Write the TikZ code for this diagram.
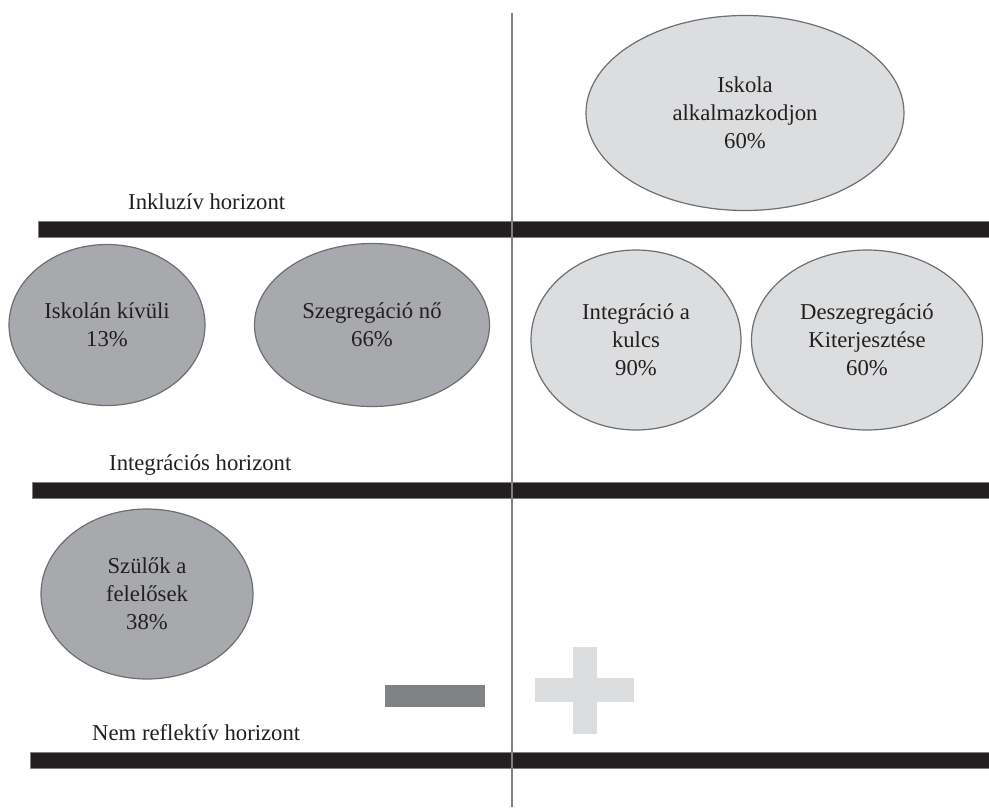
\documentclass[tikz,border=0pt]{standalone}
\usepackage{fontspec}
\setmainfont{Liberation Serif}
\usetikzlibrary{shapes,positioning}
\definecolor{darkfill}{HTML}{A7A9AC}
\definecolor{lightfill}{HTML}{DCDDDE}
\definecolor{rim}{HTML}{6D6E71}
\definecolor{ink}{HTML}{231F20}
\definecolor{minusgray}{HTML}{808285}
\begin{document}
\begin{tikzpicture}[x=1pt, y=-1pt,
  every node/.style={font=\fontsize{22.7}{28}\selectfont, text=ink},
  darkbubble/.style={ellipse, draw=rim, line width=1.2pt, fill=darkfill, align=center, inner sep=0pt},
  lightbubble/.style={ellipse, draw=rim, line width=1.2pt, fill=lightfill, align=center, inner sep=0pt},
  horizon/.style={fill=ink, draw=gray, line width=0.6pt},
  hlabel/.style={anchor=base west, inner sep=0pt}]
\useasboundingbox (0,0) rectangle (989,807);
% horizons
\fill[horizon] (38,221) rectangle (989,237);
\fill[horizon] (32,482) rectangle (989,498);
\fill[horizon] (30,752) rectangle (989,768);
\node[hlabel] (inkl) at (128,209) {Inkluzív horizont};
\node[hlabel] (integh) at (109,470) {Integrációs horizont};
\node[hlabel] (nemref) at (92,740) {Nem reflektív horizont};
% divider
\draw[gray, line width=1.5pt] (512,13) -- (512,807);
% bubbles
\node[lightbubble, minimum width=318pt, minimum height=195pt] (iskola) at (745,113) {Iskola\\alkalmazkodjon\\60\%};
\node[darkbubble, minimum width=196pt, minimum height=161pt] (kivul) at (107,325) {Iskolán kívüli\\13\%};
\node[darkbubble, minimum width=235pt, minimum height=163pt] (szegreg) at (372,325) {Szegregáció nő\\66\%};
\node[lightbubble, minimum width=210pt, minimum height=180pt] (integr) at (636,340) {Integráció a\\kulcs\\90\%};
\node[lightbubble, minimum width=231pt, minimum height=180pt] (deszeg) at (867,340) {Deszegregáció\\Kiterjesztése\\60\%};
\node[darkbubble, minimum width=212pt, minimum height=170pt] (szulok) at (147,594) {Szülők a\\felelősek\\38\%};
% signs
\fill[minusgray] (385,685) rectangle (485,707);
\fill[lightfill] (535,678) rectangle (634,702);
\fill[lightfill] (573,647) rectangle (597,734);
\end{tikzpicture}
\end{document}
